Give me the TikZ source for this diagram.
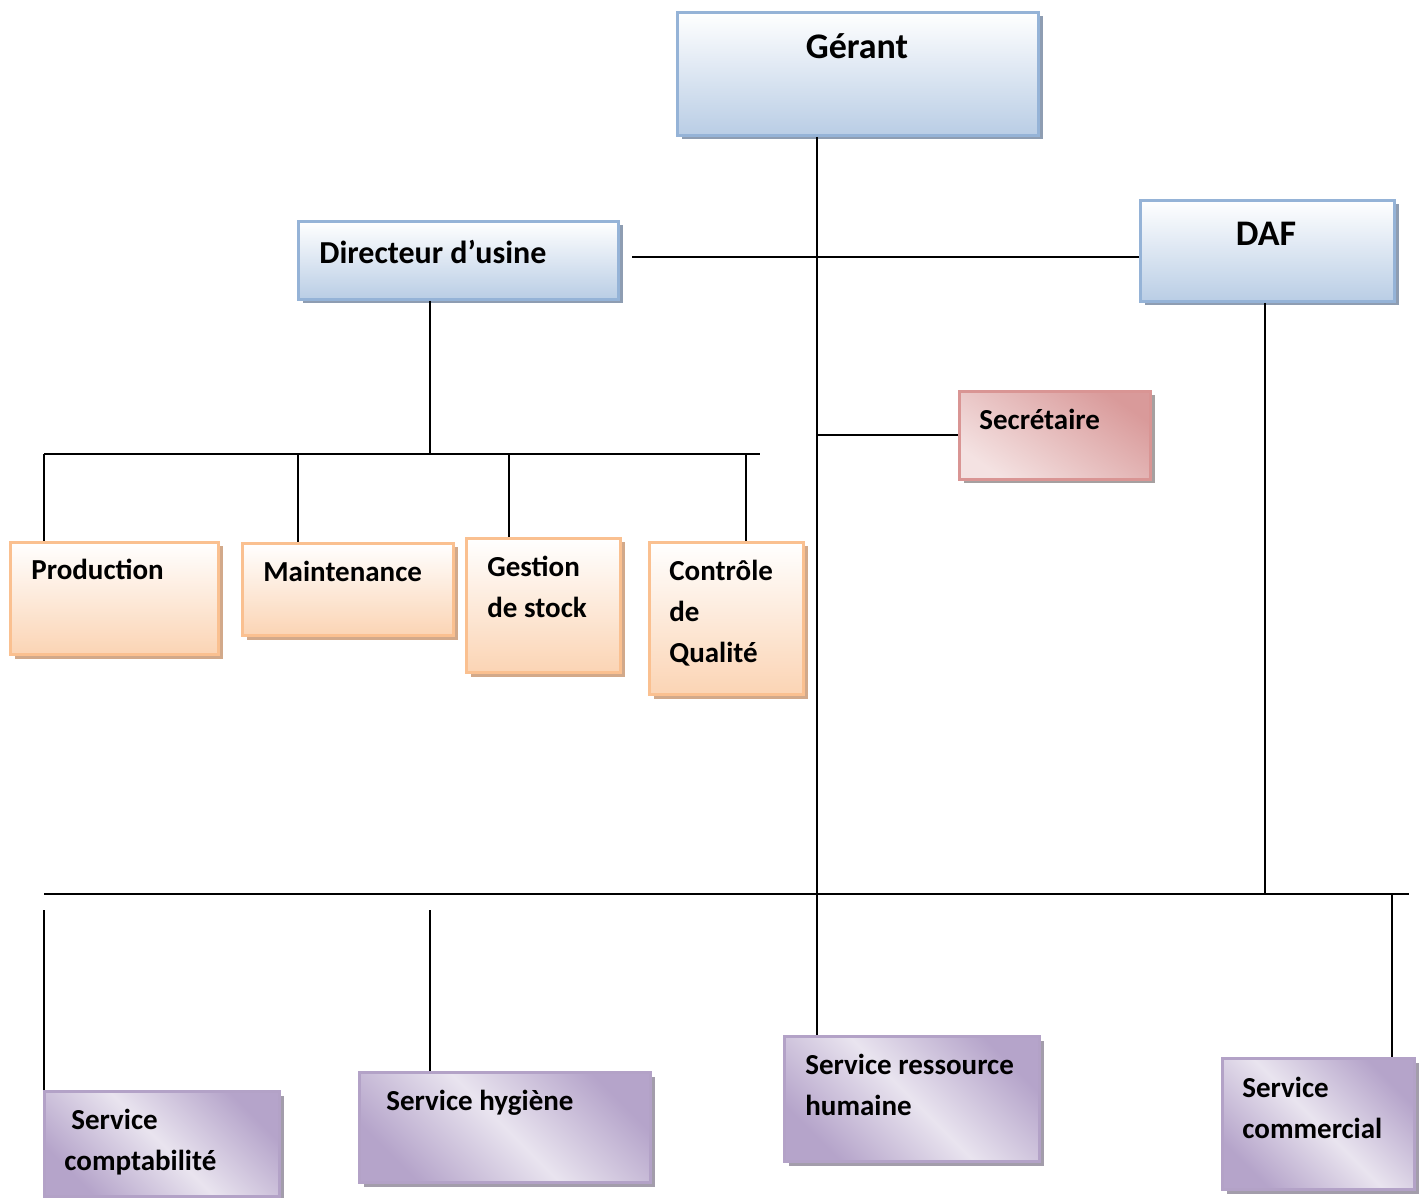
\documentclass[tikz,border=0pt]{standalone}
\usepackage{fontspec}
\setmainfont{Carlito}
\usetikzlibrary{%
  shadows,%
  calc
}
\definecolor{blueB}{HTML}{95B3D7}
\definecolor{blueF}{HTML}{B9CDE5}
\definecolor{blueS}{HTML}{8E9DB2}
\definecolor{orB}{HTML}{FAC090}
\definecolor{orF}{HTML}{FBD4B4}
\definecolor{orS}{HTML}{D2A98A}
\definecolor{pkB}{HTML}{D99594}
\definecolor{pkD}{HTML}{D99A9A}
\definecolor{pkL}{HTML}{F4E2E2}
\definecolor{pkS}{HTML}{A6A0A0}
\definecolor{puB}{HTML}{B3A2C7}
\definecolor{puD}{HTML}{B5A4CA}
\definecolor{puL}{HTML}{E9E4EF}
\definecolor{puS}{HTML}{A39DAB}

\tikzset{
  box/.style={rectangle, line width=1.5pt, inner sep=0pt, anchor=north west},
  bluebox/.style={box, draw=blueB, top color=white, bottom color=blueF,
    drop shadow={shadow xshift=2pt, shadow yshift=-2pt, fill=blueS, opacity=1}},
  orbox/.style={box, draw=orB, top color=white, bottom color=orF,
    drop shadow={shadow xshift=2pt, shadow yshift=-2pt, fill=orS, opacity=1}},
  pkbox/.style={box, draw=pkB, top color=pkD, bottom color=pkL, shading angle=-35,
    drop shadow={shadow xshift=2pt, shadow yshift=-2pt, fill=pkS, opacity=1}},
  pubox/.style={box, draw=puB, left color=puD, right color=puD, middle color=puL,
    shading angle=-45,
    drop shadow={shadow xshift=2pt, shadow yshift=-2pt, fill=puS, opacity=1}},
  txt/.style={inner sep=0pt, anchor=north west, align=left,
    font=\bfseries\fontsize{14.5}{20.5}\selectfont},
  link/.style={line width=1pt}
}

\begin{document}
\begin{tikzpicture}[x=0.5pt,y=-0.5pt]
  \useasboundingbox (0,0) rectangle (1421,1198);

  % boxes
  \node[bluebox, minimum width=180.5pt, minimum height=61.5pt] (ger) at (676,11) {};
  \node[bluebox, minimum width=127pt, minimum height=50.5pt] (daf) at (1139,199) {};
  \node[bluebox, minimum width=160pt, minimum height=39pt] (dir) at (297,220) {};
  \node[pkbox, minimum width=95.5pt, minimum height=44pt] (sec) at (958,390) {};
  \node[orbox, minimum width=104pt, minimum height=56pt] (prod) at (9,541) {};
  \node[orbox, minimum width=105.5pt, minimum height=46pt] (maint) at (241,542) {};
  \node[orbox, minimum width=77pt, minimum height=67pt] (gest) at (465,537) {};
  \node[orbox, minimum width=77pt, minimum height=76pt] (ctrl) at (648,541) {};
  \node[pubox, minimum width=117.5pt, minimum height=52.5pt] (compta) at (43,1090) {};
  \node[pubox, minimum width=145.5pt, minimum height=55pt] (hyg) at (358,1071) {};
  \node[pubox, minimum width=127.5pt, minimum height=62.5pt] (rh) at (783,1035) {};
  \node[pubox, minimum width=96pt, minimum height=65.5pt] (comm) at (1221,1057) {};

  % texts
  \node[txt, anchor=north, font=\bfseries\fontsize{18}{22}\selectfont] (ger-t) at (857,33) {Gérant};
  \node[txt, anchor=north, font=\bfseries\fontsize{18}{22}\selectfont] (daf-t) at (1266,222) {DAF};
  \node[txt, font=\bfseries\fontsize{16}{20}\selectfont] (dir-t) at (319,240) {Directeur d’usine};
  \node[txt] (sec-t) at (979,409) {Secrétaire};
  \node[txt] (prod-t) at (31,559) {Production};
  \node[txt] (maint-t) at (263,561) {Maintenance};
  \node[txt] (gest-t) at (487,556) {Gestion\\de stock};
  \node[txt] (ctrl-t) at (669,560) {Contrôle\\de\\Qualité};
  \node[txt] (compta-t) at (64,1109) {\hspace{3.5pt}Service\\comptabilité};
  \node[txt] (hyg-t) at (386,1090) {Service hygiène};
  \node[txt] (rh-t) at (805,1054) {Service ressource\\humaine};
  \node[txt] (comm-t) at (1242,1077) {Service\\commercial};

  % junctions
  \coordinate (trunk) at (817,894);
  \coordinate (midbar) at (632,257);
  \coordinate (dafbar) at (1265,894);
  \coordinate (dbus) at (430,454);
  \coordinate (dbusL) at (44,454);
  \coordinate (dbusR) at (760,454);
  \coordinate (busL) at (44,894);
  \coordinate (busR) at (1409,894);
  \coordinate (cL) at (44,910);
  \coordinate (hL) at (430,910);
  \coordinate (cR) at (1392,894);

  % links
  \draw[link] (ger.south -| trunk) -- (rh.north -| trunk);
  \draw[link] (midbar) -- (midbar -| daf.west);
  \draw[link] (dbus |- dir.south) -- (dbus);
  \draw[link] (dbusL) -- (dbusR);
  \draw[link] (dbusL) -- (dbusL |- prod.north);
  \draw[link] (298,454) -- (298,0 |- maint.north);
  \draw[link] (509,454) -- (509,0 |- gest.north);
  \draw[link] (746,454) -- (746,0 |- ctrl.north);
  \draw[link] (sec.west -| trunk) -- (sec.west);
  \draw[link] (dafbar |- daf.south) -- (dafbar);
  \draw[link] (busL) -- (busR);
  \draw[link] (cL) -- (cL |- compta.north);
  \draw[link] (hL) -- (hL |- hyg.north);
  \draw[link] (cR) -- (cR |- comm.north);
\end{tikzpicture}
\end{document}
